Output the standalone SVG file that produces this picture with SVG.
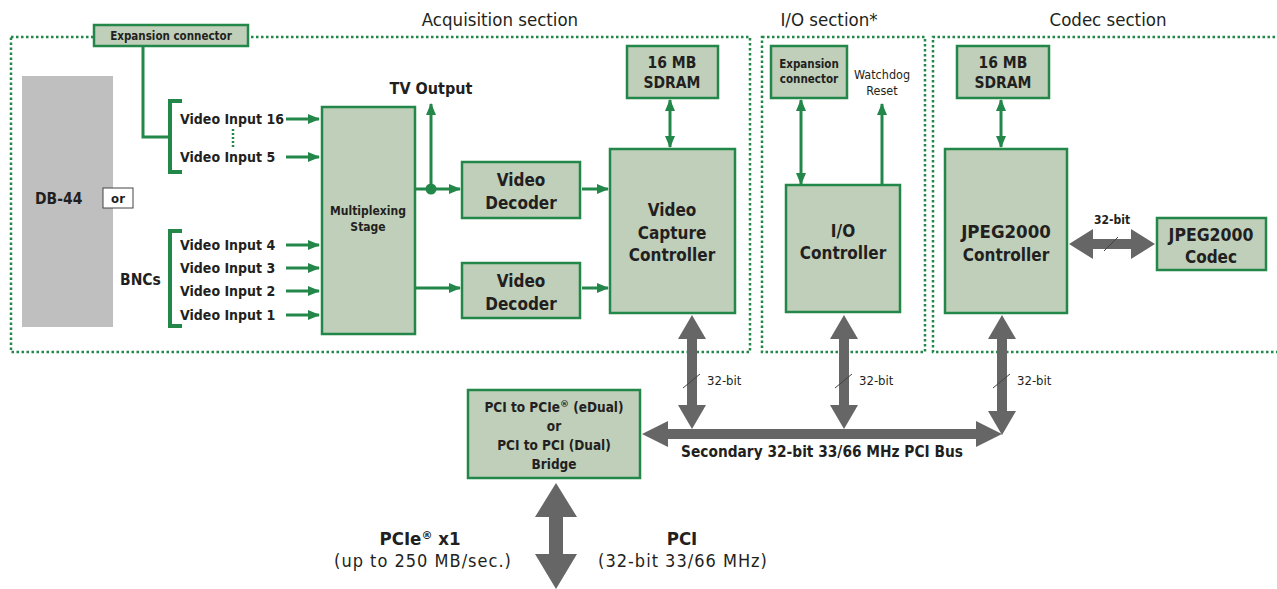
<svg xmlns="http://www.w3.org/2000/svg" width="1277" height="589" viewBox="0 0 1277 589">
<style>
.box{fill:#bfcfba;stroke:#23874a;stroke-width:2.5}
.sec{fill:none;stroke:#23874a;stroke-width:2.5;stroke-dasharray:2.5 2.5}
.gl{fill:none;stroke:#23874a;stroke-width:3}
.br{fill:none;stroke:#23874a;stroke-width:4}
.ga{fill:#666}
.sl{stroke:#444;stroke-width:1}
text{font-family:"DejaVu Sans Condensed","DejaVu Sans",sans-serif;fill:#231f20}
.t{font-size:16px}
.b{font-weight:bold}
.c{text-anchor:middle}
.s11{font-size:11.5px}
.s12{font-size:12px}
.s13{font-size:13px}
.s14{font-size:14px}
.s15{font-size:15.5px}
.s17{font-size:17px}
.s18{font-size:18.5px}
.lt{font-size:18px;letter-spacing:1px}
.reg{font-family:"DejaVu Sans",sans-serif;fill:#231f20}
</style>
<defs>
<marker id="ah" viewBox="0 0 12 10" refX="11" refY="5" markerWidth="12" markerHeight="10" markerUnits="userSpaceOnUse" orient="auto-start-reverse"><path d="M0,0 L12,5 L0,10 z" fill="#23874a"/></marker>
</defs>
<rect width="1277" height="589" fill="#fff"/>
<g id="sections">
<rect class="sec" x="11" y="37" width="739" height="315"/>
<rect class="sec" x="762" y="37" width="163" height="315"/>
<path class="sec" d="M1280,37 H933 V352 H1280"/>
<text class="s18 c" x="500" y="26">Acquisition section</text>
<text class="s18 c" x="829" y="26">I/O section*</text>
<text class="s18 c" x="1108" y="26">Codec section</text>
</g>
<g id="connectors">
<path class="gl" d="M143,47 V137 H170"/>
<path class="br" d="M182,101 H170 V172 H182"/>
<path class="br" d="M182,231 H170 V326 H182"/>
<path class="br" d="M107,84 H90 V320 H107"/>
<line x1="233" y1="129" x2="233" y2="148" stroke="#23874a" stroke-width="2.5" stroke-dasharray="2 2"/>
<line class="gl" x1="286" y1="119" x2="319" y2="119" marker-end="url(#ah)"/>
<line class="gl" x1="286" y1="157" x2="319" y2="157" marker-end="url(#ah)"/>
<line class="gl" x1="286" y1="245" x2="319" y2="245" marker-end="url(#ah)"/>
<line class="gl" x1="286" y1="268" x2="319" y2="268" marker-end="url(#ah)"/>
<line class="gl" x1="286" y1="291" x2="319" y2="291" marker-end="url(#ah)"/>
<line class="gl" x1="286" y1="315" x2="319" y2="315" marker-end="url(#ah)"/>
<line class="gl" x1="416" y1="189" x2="460" y2="189" marker-end="url(#ah)"/>
<line class="gl" x1="431" y1="189" x2="431" y2="104" marker-end="url(#ah)"/>
<circle cx="431" cy="189" r="5.5" fill="#23874a"/>
<line class="gl" x1="416" y1="288" x2="460" y2="288" marker-end="url(#ah)"/>
<line class="gl" x1="582" y1="189" x2="608" y2="189" marker-end="url(#ah)"/>
<line class="gl" x1="582" y1="288" x2="608" y2="288" marker-end="url(#ah)"/>
<line class="gl" x1="670" y1="100" x2="670" y2="147" marker-start="url(#ah)" marker-end="url(#ah)"/>
<line class="gl" x1="801" y1="100" x2="801" y2="184" marker-start="url(#ah)" marker-end="url(#ah)"/>
<line class="gl" x1="882" y1="185" x2="882" y2="104" marker-end="url(#ah)"/>
<line class="gl" x1="1001" y1="100" x2="1001" y2="147" marker-start="url(#ah)" marker-end="url(#ah)"/>
<polygon class="ga" points="1069,244 1093,229 1093,239 1131,239 1131,229 1155,244 1131,259 1131,249 1093,249 1093,259"/>
<line class="sl" x1="1104" y1="251" x2="1118" y2="237"/>
<text class="s12 b c" x="1112" y="224">32-bit</text>
<polygon class="ga" points="692,315 706,339 697,339 697,405 706,405 692,429 678,405 687,405 687,339 678,339"/>
<polygon class="ga" points="844,315 858,339 849,339 849,405 858,405 844,429 830,405 839,405 839,339 830,339"/>
<polygon class="ga" points="1002,315 1016,339 1007,339 1007,411 1016,411 1002,435 988,411 997,411 997,339 988,339"/>
<polygon class="ga" points="642,434 668,421 668,429 976,429 976,421 1002,434 976,447 976,439 668,439 668,447"/>
<line class="sl" x1="683" y1="388" x2="700" y2="374"/>
<line class="sl" x1="835" y1="388" x2="852" y2="374"/>
<line class="sl" x1="993" y1="388" x2="1010" y2="374"/>
<text class="s13" x="707" y="385">32-bit</text>
<text class="s13" x="859" y="385">32-bit</text>
<text class="s13" x="1017" y="385">32-bit</text>
<text class="b c" style="font-size:15.3px" x="822" y="457">Secondary 32-bit 33/66 MHz PCI Bus</text>
<polygon class="ga" points="556,483 577,517 563,517 563,554 577,554 556,589 535,554 549,554 549,517 535,517"/>
</g>
<g id="expansion-top">
<rect class="box" x="94" y="25" width="154" height="21"/>
<text class="s11 b c" x="171" y="40">Expansion connector</text>
</g>
<g id="db44">
<rect x="22" y="76" width="91" height="251" fill="#bfbfbf"/>
<text class="s15 b" x="35" y="204">DB-44</text>
</g>
<g id="or">
<rect x="103" y="188" width="30" height="20" fill="#fff" stroke="#444" stroke-width="1"/>
<text class="s13 b c" x="118" y="203">or</text>
</g>
<g id="inputs">
<text class="s14 b" x="180" y="124">Video Input 16</text>
<text class="s14 b" x="180" y="162">Video Input 5</text>
<text class="s14 b" x="180" y="250">Video Input 4</text>
<text class="s14 b" x="180" y="273">Video Input 3</text>
<text class="s14 b" x="180" y="296">Video Input 2</text>
<text class="s14 b" x="180" y="320">Video Input 1</text>
<text class="s15 b" x="120" y="285">BNCs</text>
</g>
<g id="mux">
<rect class="box" x="322" y="107" width="93" height="227"/>
<text class="s12 b c" x="368" y="215">Multiplexing</text>
<text class="s12 b c" x="368" y="231">Stage</text>
</g>
<g id="tvout"><text class="t b c" x="431" y="94">TV Output</text></g>
<g id="decoder1">
<rect class="box" x="462" y="162" width="118" height="56"/>
<text class="s17 b c" x="521" y="186">Video</text>
<text class="s17 b c" x="521" y="209">Decoder</text>
</g>
<g id="decoder2">
<rect class="box" x="462" y="263" width="118" height="55"/>
<text class="s17 b c" x="521" y="287">Video</text>
<text class="s17 b c" x="521" y="310">Decoder</text>
</g>
<g id="sdram1">
<rect class="box" x="627" y="46" width="91" height="52"/>
<text class="s15 b c" x="672" y="68">16 MB</text>
<text class="s15 b c" x="672" y="88">SDRAM</text>
</g>
<g id="vcc">
<rect class="box" x="610" y="149" width="125" height="164"/>
<text class="s17 b c" x="672" y="216">Video</text>
<text class="s17 b c" x="672" y="239">Capture</text>
<text class="s17 b c" x="672" y="261">Controller</text>
</g>
<g id="io-exp">
<rect class="box" x="771" y="46" width="76" height="52"/>
<text class="s11 b c" x="809" y="68">Expansion</text>
<text class="s11 b c" x="809" y="83">connector</text>
</g>
<g id="watchdog">
<text class="c" style="font-size:12.5px" x="882" y="79">Watchdog</text>
<text class="c" style="font-size:12.5px" x="882" y="95">Reset</text>
</g>
<g id="io-ctrl">
<rect class="box" x="786" y="185" width="114" height="127"/>
<text class="s17 b c" x="843" y="237">I/O</text>
<text class="s17 b c" x="843" y="259">Controller</text>
</g>
<g id="sdram2">
<rect class="box" x="957" y="46" width="92" height="52"/>
<text class="s15 b c" x="1003" y="68">16 MB</text>
<text class="s15 b c" x="1003" y="88">SDRAM</text>
</g>
<g id="jpeg-ctrl">
<rect class="box" x="945" y="149" width="122" height="164"/>
<text class="s18 b c" x="1006" y="238">JPEG2000</text>
<text class="s17 b c" x="1006" y="261">Controller</text>
</g>
<g id="jpeg-codec">
<rect class="box" x="1157" y="218" width="109" height="52"/>
<text class="b c" style="font-size:17.5px" x="1211" y="241">JPEG2000</text>
<text class="s17 b c" x="1211" y="263">Codec</text>
</g>
<g id="bridge">
<rect class="box" x="468" y="390" width="172" height="88"/>
<text class="b c" style="font-size:13.5px" x="554" y="412">PCI to PCIe<tspan class="reg" style="font-size:9px" baseline-shift="super">®</tspan> (eDual)</text>
<text class="b c" style="font-size:13.5px" x="554" y="431">or</text>
<text class="b c" style="font-size:13.5px" x="554" y="450">PCI to PCI (Dual)</text>
<text class="b c" style="font-size:13.5px" x="554" y="469">Bridge</text>
</g>
<g id="bottom-labels">
<text class="s18 b c" x="420" y="545">PCIe<tspan class="reg" style="font-size:11px" baseline-shift="super">®</tspan> x1</text>
<text class="lt c" x="423" y="567">(up to 250 MB/sec.)</text>
<text class="s18 b c" x="682" y="545">PCI</text>
<text class="lt c" x="683" y="567">(32-bit 33/66 MHz)</text>
</g>
</svg>
